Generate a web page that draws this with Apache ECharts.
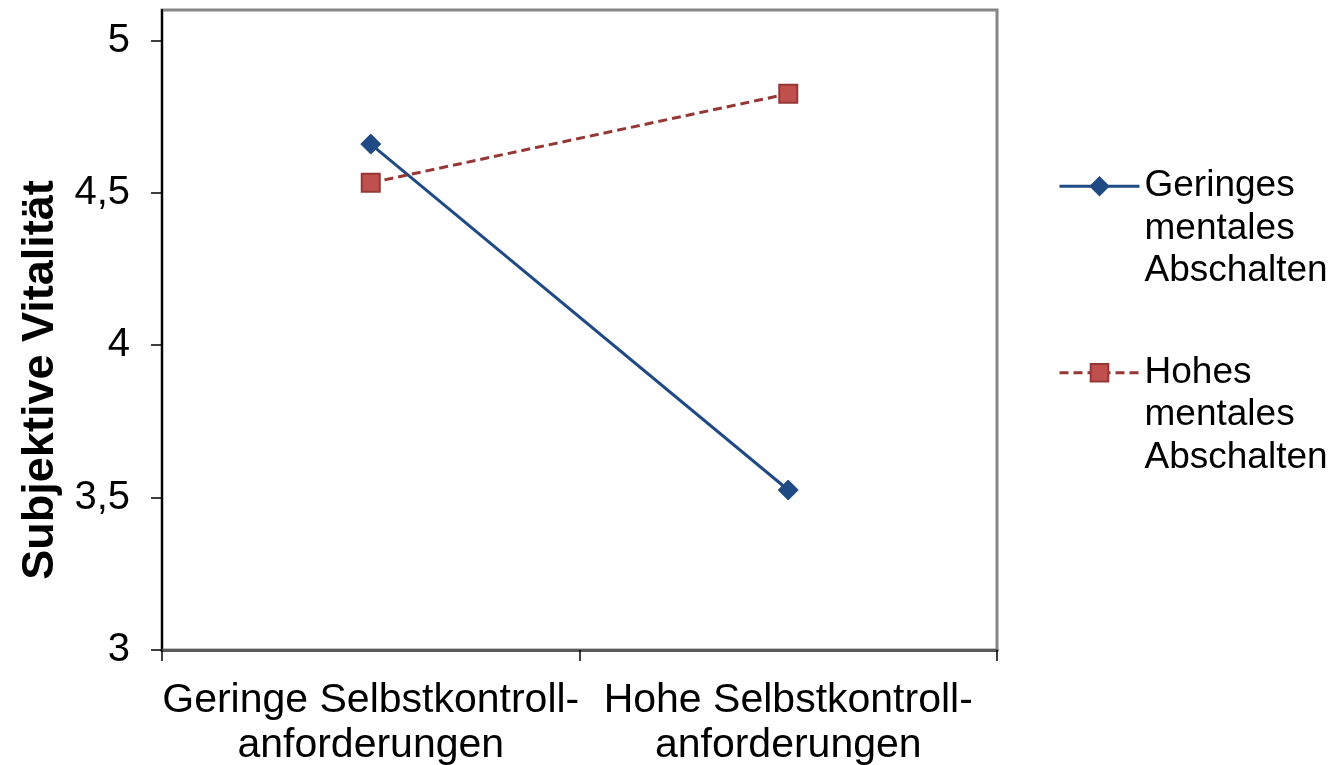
<!DOCTYPE html>
<html>
<head>
<meta charset="utf-8">
<script src="https://cdn.jsdelivr.net/npm/echarts@6/dist/echarts.min.js"></script>
<style>
html,body{margin:0;padding:0;background:#fff;}
#chart{width:1332px;height:765px;}
</style>
</head>
<body>
<div id="chart"></div>
<script>
const categories = ['Geringe Selbstkontroll-\nanforderungen', 'Hohe Selbstkontroll-\nanforderungen'];
const seriesNames = ['Geringes\nmentales\nAbschalten', 'Hohes\nmentales\nAbschalten'];
const geringesValues = [4.66, 3.525];
const hohesValues = [4.533, 4.825];
const yTicks = [3, 3.5, 4, 4.5, 5];
const yTitle = 'Subjektive Vitalität';

const FONT = '"Liberation Sans", Arial, sans-serif';
const chart = echarts.init(document.getElementById('chart'), null, {renderer: 'canvas'});
chart.setOption({
  animation: false,
  backgroundColor: '#ffffff',
  grid: {left: 162, right: 335, top: 10, bottom: 115, containLabel: false, outerBoundsMode: 'none',
         show: true, borderColor: '#868686', borderWidth: 3, backgroundColor: 'transparent'},
  legend: {
    orient: 'vertical',
    left: 1053,
    top: 75,
    itemWidth: 80,
    itemHeight: 22,
    itemGap: -26,
    selectedMode: false,
    lineStyle: {width: 3},
    formatter: function (n) { return '\n\n' + n; },
    textStyle: {fontFamily: FONT, fontSize: 37, color: '#000', lineHeight: 42.5},
    data: seriesNames
  },
  xAxis: {
    type: 'category',
    data: categories,
    boundaryGap: true,
    axisLine: {lineStyle: {color: '#5a5a5a', width: 3}},
    axisTick: {show: true, length: 11, alignWithLabel: false, lineStyle: {color: '#000', width: 1.5}},
    axisLabel: {fontFamily: FONT, fontSize: 41, color: '#000', margin: 28, lineHeight: 45, interval: 0},
    splitLine: {show: false}
  },
  yAxis: {
    type: 'value',
    min: 3,
    max: 5.1,
    interval: 0.5,
    name: yTitle,
    nameLocation: 'middle',
    nameRotate: 90,
    nameGap: 96,
    nameTextStyle: {fontFamily: FONT, fontSize: 45, fontWeight: 'bold', color: '#000', padding: [0, 100, 0, 0]},
    axisLine: {show: true, lineStyle: {color: '#000', width: 2}},
    axisTick: {show: true, length: 11, customValues: yTicks, lineStyle: {color: '#000', width: 1.5}},
    axisLabel: {
      customValues: yTicks,
      fontFamily: FONT, fontSize: 40, color: '#000', margin: 32,
      formatter: function (v) { return String(v).replace('.', ','); }
    },
    splitLine: {show: false}
  },
  series: [
    {
      name: seriesNames[0],
      type: 'line',
      data: geringesValues,
      symbol: 'diamond',
      symbolSize: 20,
      lineStyle: {color: '#1F4A84', width: 3},
      itemStyle: {color: '#1F4A84', borderColor: '#1F4A84', borderWidth: 1}
    },
    {
      name: seriesNames[1],
      type: 'line',
      data: hohesValues,
      symbol: 'rect',
      symbolSize: 18,
      lineStyle: {color: '#953735', width: 3, type: [9, 5]},
      itemStyle: {color: '#C0504D', borderColor: '#953735', borderWidth: 2}
    }
  ]
});
</script>
</body>
</html>
